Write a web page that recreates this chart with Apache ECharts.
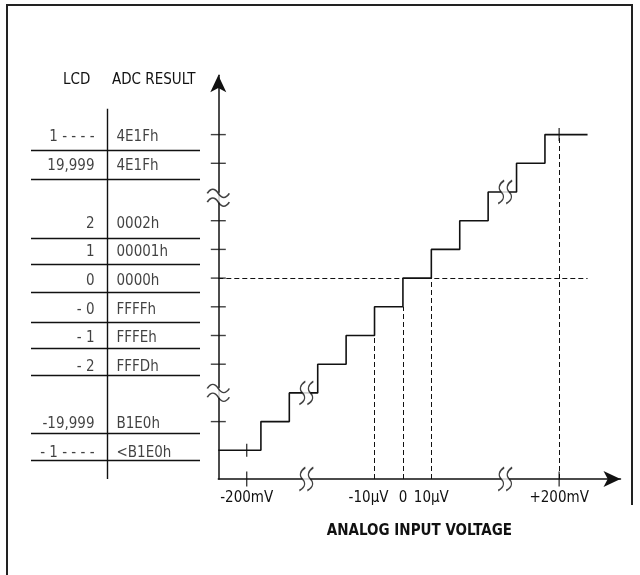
<!DOCTYPE html>
<html>
<head>
<meta charset="utf-8">
<script src="https://cdn.jsdelivr.net/npm/echarts@6/dist/echarts.min.js"></script>
<style>html,body{margin:0;padding:0;background:#fff;}#c{width:640px;height:575px;}</style>
</head>
<body>
<div id="c"></div>
<script>
// ---- data ----
const lcdLabels = ['1 - - - -', '19,999', '2', '1', '0', '- 0', '- 1', '- 2', '-19,999', '- 1 - - - -'];
const adcLabels = ['4E1Fh', '4E1Fh', '0002h', '00001h', '0000h', 'FFFFh', 'FFFEh', 'FFFDh', 'B1E0h', '<B1E0h'];
const rowLevels = [11, 10, 8, 7, 6, 5, 4, 3, 1, 0];
const ruleLevels = [10.45, 9.45, 7.4, 6.5, 5.5, 4.45, 3.55, 2.6, 0.6, -0.35];
const stepX = [0, 1.5, 2.5, 3.5, 4.5, 5.5, 6.5, 7.5, 8.5, 9.5, 10.5, 11.5, 13];
const stepLevel = [0, 1, 2, 3, 4, 5, 6, 7, 8, 9, 10, 11, 11];
const yTickLevels = [1, 3, 4, 5, 6, 7, 8, 10, 11];
const yBreakLevels = [8.8, 2];
const xBreakValues = [3.1, 10.1];
const stepBreaks = [[3.1, 2], [10.1, 9]];
const xTickValues = [1, 5.5, 6.5, 7.5, 12];
const xTickLabels = ['-200mV', '-10µV', '0', '10µV', '+200mV'];
const xAxisTicks = [1, 12];
const crossMarks = [[1, 0], [12, 11]];
const refX = [5.5, 6.5, 7.5, 12];
const refLevel = [4, 5, 6, 11];
const zeroLevel = 6;
const zeroLineEnd = 13;
const headers = ['LCD', 'ADC RESULT'];
const xTitle = 'ANALOG INPUT VOLTAGE';

// ---- style / layout ----
const FONT = '"Liberation Sans Narrow","DejaVu Sans Condensed","Arial Narrow",sans-serif';
const INK = '#111';
const X_MIN = -1, Y_MAX = 13.07;
const TBL = {lcdX: 64, adcX: 85, divX: 76, divTop: 11.9};
const SS_PATH = 'path://M7,0 C1,4 1,9 4,12 C7,15 8,20 1,24 M15,0 C9,4 9,9 12,12 C15,15 16,20 9,24';
const TILDE_PATH = 'path://M0,4 C4,-1 8,-1 12,4 C16,9 20,9 24,4 M0,12 C4,7 8,7 12,12 C16,17 20,17 24,12';

const chart = echarts.init(document.getElementById('c'), null, {renderer: 'canvas'});

function near(a, b) { return Math.abs(a - b) < 1e-6; }

const dashed = [
  ...refX.map((x, i) => [{coord: [x, X_MIN]}, {coord: [x, refLevel[i]]}]),
  [{coord: [0, zeroLevel]}, {coord: [zeroLineEnd, zeroLevel]}]
];

const option = {
  backgroundColor: '#fff',
  animation: false,
  textStyle: {fontFamily: FONT},
  graphic: [{
    type: 'polyline', silent: true,
    shape: {points: [[7, 575], [7, 5], [632, 5], [632, 505]]},
    style: {stroke: '#222', lineWidth: 2, fill: 'none'}
  }],
  title: [
    {text: headers[0], left: 58, top: 68, textStyle: {fontFamily: FONT, fontSize: 15, fontWeight: 'normal', color: INK}},
    {text: headers[1], left: 107, top: 68, textStyle: {fontFamily: FONT, fontSize: 15, fontWeight: 'normal', color: INK}}
  ],
  grid: [
    {left: 218.3, right: 19.5, top: 75.2, bottom: 96},
    {left: 31, width: 169, top: 75.2, bottom: 96}
  ],
  xAxis: [
    {
      type: 'value', gridIndex: 0, min: 0, max: 14.16, interval: 0.5,
      axisLine: {onZero: false, symbol: ['none', 'arrow'], symbolSize: [12, 17], lineStyle: {color: INK, width: 1.5}},
      axisTick: {show: false}, splitLine: {show: false},
      axisLabel: {
        margin: 12, fontFamily: FONT, fontSize: 15, color: INK,
        showMinLabel: true, showMaxLabel: true,
        formatter: function (v) {
          for (let i = 0; i < xTickValues.length; i++) {
            if (near(v, xTickValues[i])) {
              return i === 1 ? '{s|' + xTickLabels[i] + '}' : xTickLabels[i];
            }
          }
          return '';
        },
        rich: {s: {fontFamily: FONT, fontSize: 15, color: INK, padding: [0, 12, 0, 0]}}
      },
      name: xTitle, nameLocation: 'middle', nameGap: 45,
      nameTextStyle: {fontFamily: FONT, fontSize: 15, fontWeight: 'bold', color: INK}
    },
    {type: 'value', gridIndex: 1, min: 0, max: 169, show: false}
  ],
  yAxis: [
    {
      type: 'value', gridIndex: 0, min: X_MIN, max: Y_MAX,
      axisLine: {onZero: false, symbol: ['none', 'arrow'], symbolSize: [12, 17], lineStyle: {color: INK, width: 1.5}},
      axisTick: {show: false}, axisLabel: {show: false}, splitLine: {show: false}
    },
    {type: 'value', gridIndex: 1, min: X_MIN, max: Y_MAX, show: false}
  ],
  series: [
    {
      type: 'line', xAxisIndex: 0, yAxisIndex: 0, step: 'end', symbol: 'none', silent: true, z: 3,
      data: stepX.map((x, i) => [x, stepLevel[i]]),
      lineStyle: {color: INK, width: 1.6},
      markLine: {
        silent: true, symbol: ['none', 'none'], label: {show: false},
        lineStyle: {color: INK, width: 1, type: [5, 3]},
        data: dashed
      }
    },
    { // y-axis cross ticks
      type: 'scatter', xAxisIndex: 0, yAxisIndex: 0, silent: true, z: 4,
      symbol: 'rect', symbolSize: [15, 1.4], itemStyle: {color: INK},
      data: yTickLevels.map(l => [0, l])
    },
    { // x-axis cross ticks
      type: 'scatter', xAxisIndex: 0, yAxisIndex: 0, silent: true, z: 4,
      symbol: 'rect', symbolSize: [1.4, 15], itemStyle: {color: INK},
      data: xAxisTicks.map(v => [v, X_MIN])
    },
    { // cross marks on staircase
      type: 'scatter', xAxisIndex: 0, yAxisIndex: 0, silent: true, z: 4,
      symbol: 'rect', symbolSize: [1.4, 13], itemStyle: {color: INK},
      data: crossMarks
    },
    { // masks for y breaks
      type: 'scatter', xAxisIndex: 0, yAxisIndex: 0, silent: true, z: 5,
      symbol: 'rect', symbolSize: [6, 10], itemStyle: {color: '#fff'},
      data: yBreakLevels.map(l => [0, l])
    },
    { // masks for x and staircase breaks
      type: 'scatter', xAxisIndex: 0, yAxisIndex: 0, silent: true, z: 5,
      symbol: 'rect', symbolSize: [8, 5], itemStyle: {color: '#fff'},
      data: xBreakValues.map(v => [v, X_MIN]).concat(stepBreaks)
    },
    { // y break symbols
      type: 'scatter', xAxisIndex: 0, yAxisIndex: 0, silent: true, z: 6,
      symbol: TILDE_PATH, symbolSize: [22, 17],
      itemStyle: {color: 'transparent', borderColor: INK, borderWidth: 1.5},
      data: yBreakLevels.map(l => [0, l])
    },
    { // x & staircase break symbols
      type: 'scatter', xAxisIndex: 0, yAxisIndex: 0, silent: true, z: 6,
      symbol: SS_PATH, symbolSize: [14, 23],
      itemStyle: {color: 'transparent', borderColor: INK, borderWidth: 1.5},
      data: xBreakValues.map(v => [v, X_MIN]).concat(stepBreaks)
    },
    { // table LCD column
      type: 'scatter', xAxisIndex: 1, yAxisIndex: 1, silent: true, z: 4,
      symbolSize: 1, itemStyle: {color: 'transparent'},
      data: rowLevels.map(l => [TBL.lcdX, l]),
      label: {
        show: true, position: 'left', distance: 0, offset: [0, 3],
        fontFamily: FONT, fontSize: 15, color: INK,
        formatter: p => lcdLabels[p.dataIndex]
      },
      markLine: {
        silent: true, symbol: ['none', 'none'], label: {show: false},
        lineStyle: {color: INK, width: 1.4, type: 'solid'},
        data: ruleLevels.map(v => ({yAxis: v})).concat([
          [{coord: [TBL.divX, TBL.divTop]}, {coord: [TBL.divX, X_MIN]}]
        ])
      }
    },
    { // table ADC column
      type: 'scatter', xAxisIndex: 1, yAxisIndex: 1, silent: true, z: 4,
      symbolSize: 1, itemStyle: {color: 'transparent'},
      data: rowLevels.map(l => [TBL.adcX, l]),
      label: {
        show: true, position: 'right', distance: 0, offset: [0, 3],
        fontFamily: FONT, fontSize: 15, color: INK,
        formatter: p => adcLabels[p.dataIndex]
      }
    }
  ]
};
chart.setOption(option);
</script>
</body>
</html>
